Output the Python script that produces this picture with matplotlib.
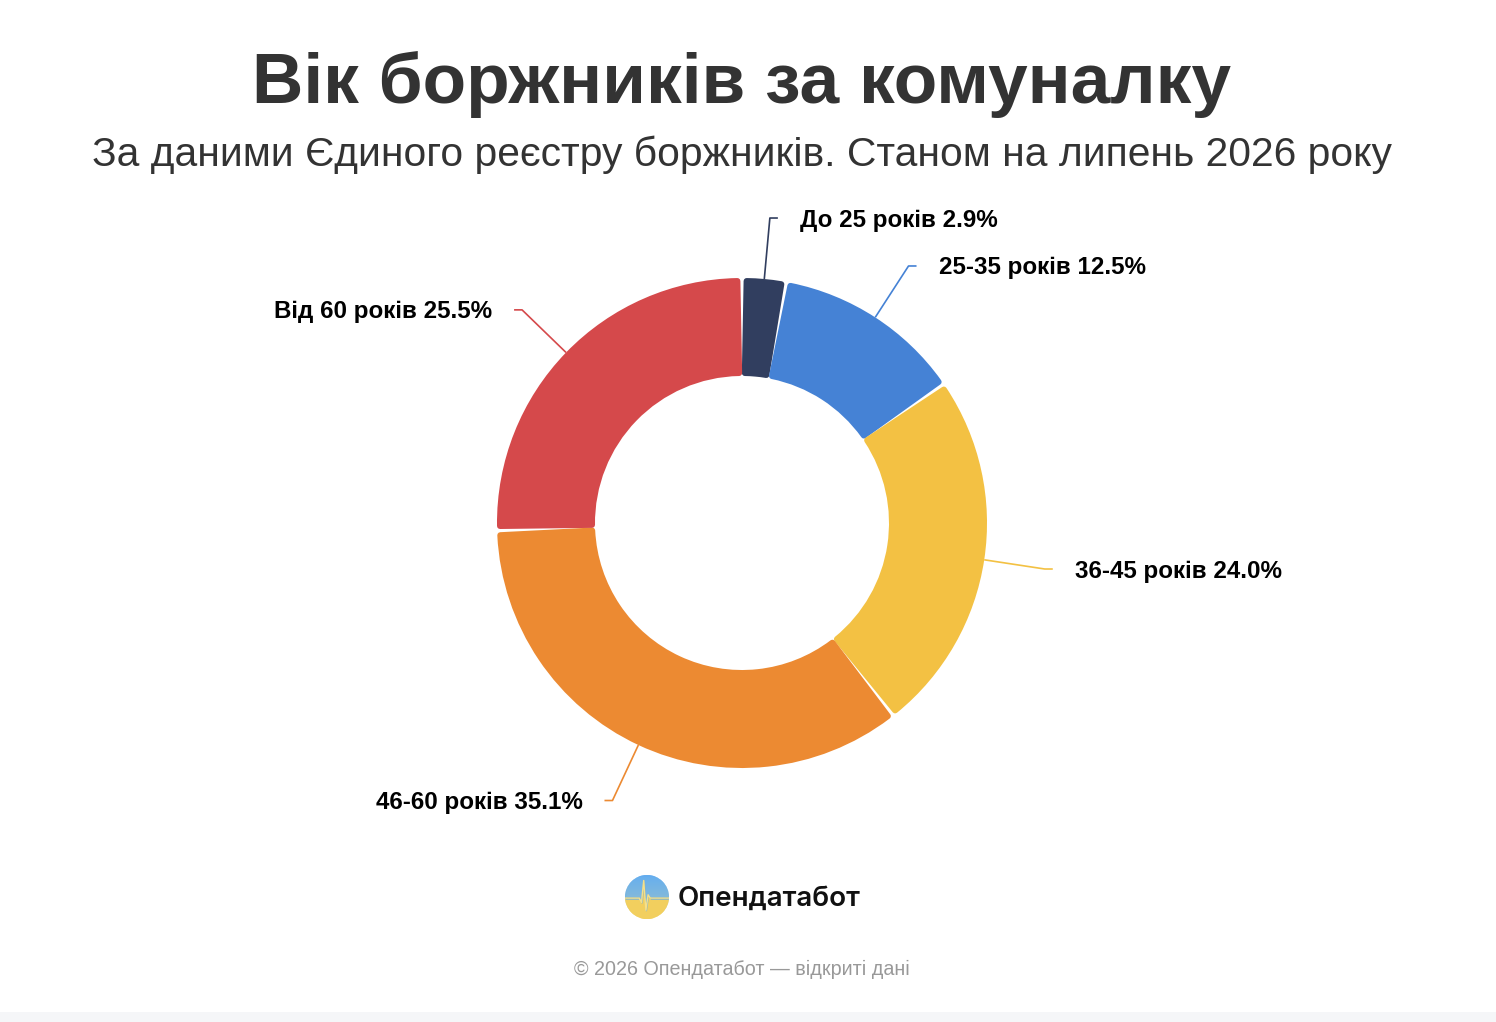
import numpy as np
import matplotlib.pyplot as plt
import matplotlib.patheffects as pe
from matplotlib.patches import Circle

# дані
labels = ['До 25 років', '25-35 років', '36-45 років', '46-60 років', 'Від 60 років']
values = [2.9, 12.5, 24.0, 35.1, 25.5]
colors = ['#313e5f', '#4582d5', '#f3c143', '#ec8a32', '#d5494b']

title = 'Вік боржників за комуналку'
subtitle = 'За даними Єдиного реєстру боржників. Станом на липень 2026 року'
brand = 'Опендатабот'
footer = '© 2026 Опендатабот — відкриті дані'

W, H = 1496, 1022
fig = plt.figure(figsize=(W / 100, H / 100), dpi=100)
fig.patch.set_facecolor('white')

# сіра смуга внизу
band = fig.add_axes([0, 0, 1, 10 / H])
band.set_facecolor('#f5f6f8')
band.set_xticks([]); band.set_yticks([])
for s in band.spines.values():
    s.set_visible(False)

fig.text(742 / W, 1 - 85 / H, title, ha='center', va='center', fontsize=51.3,
         fontweight='bold', color='#333333', family='Liberation Sans')
fig.text(742 / W, 1 - 155 / H, subtitle, ha='center', va='center', fontsize=29.3,
         color='#333333', family='Liberation Sans')

# кільцева діаграма
cx, cy, R = 742, 523, 245
lim = 1.7
size = 2 * lim * R
ax = fig.add_axes([(cx - size / 2) / W, (H - cy - size / 2) / H, size / W, size / H])

ring = 0.40
wedges, _ = ax.pie(values, colors=colors, startangle=90, counterclock=False,
                   radius=1, wedgeprops=dict(width=ring, linewidth=0))
ax.set_xlim(-lim, lim)
ax.set_ylim(-lim, lim)
ax.set_aspect('equal')
ax.axis('off')

# заокруглені кути: звужуємо сектор і обводимо тим самим кольором
e = 3 / R
for w in wedges:
    d = np.degrees(0.019)
    w.set_theta1(w.theta1 + d)
    w.set_theta2(w.theta2 - d)
    w.set_radius(1 - e)
    w.set_width(ring - 2 * e)
    w.set_path_effects([pe.Stroke(linewidth=2 * 3 * 0.72, foreground=w.get_facecolor(),
                                  joinstyle='round'), pe.Normal()])

# підписи з виносками
hseg = 8 / R
gap = 22 / R
for w, lab, v, c in zip(wedges, labels, values, colors):
    mid = np.radians((w.theta1 + w.theta2) / 2)
    x0, y0 = np.cos(mid), np.sin(mid)
    x1, y1 = 1.25 * x0, 1.25 * y0
    side = 1 if x0 >= 0 else -1
    x2 = x1 + side * hseg
    ax.plot([x0, x1, x2], [y0, y1, y1], color=c, lw=1.2, solid_capstyle='butt')
    ax.text(x2 + side * gap, y1 - 2 / R, f'{lab} {v:.1f}%',
            ha='left' if side > 0 else 'right',
            va='center', fontsize=17.4, fontweight='bold', color='black',
            family='Liberation Sans')

# логотип
lr = 22
lx, ly = 647, 897
lax = fig.add_axes([(lx - lr) / W, (H - ly - lr) / H, 2 * lr / W, 2 * lr / H])
lax.set_xlim(-1, 1); lax.set_ylim(-1, 1)
lax.axis('off')
grad = np.linspace(0, 1, 100)[:, None]
top = np.array([0.42, 0.70, 0.95])
bot = np.array([0.98, 0.90, 0.55])
img = np.ones((100, 100, 3)) * (top * (1 - grad[:, :, None]) + bot * grad[:, :, None])
im = lax.imshow(img, extent=[-1, 1, -1, 1], origin='upper')
im.set_clip_path(Circle((0, 0), 1, transform=lax.transData))
px = np.array([-1, -0.35, -0.25, -0.15, -0.05, 0.05, 0.15, 0.25, 1])
py = np.array([-0.05, -0.05, -0.25, 0.75, -0.6, 0.1, -0.05, -0.05, -0.05])
yel = lax.fill_between(px, py, -1, color='#f2cf5e')
yel.set_clip_path(Circle((0, 0), 1, transform=lax.transData))
bl = lax.fill_between(px, py, 1, color='#62acee', alpha=0.6)
bl.set_clip_path(Circle((0, 0), 1, transform=lax.transData))
lax.plot(px, py, color='#f6e08a', lw=1.0, clip_path=Circle((0, 0), 1, transform=lax.transData))

fig.text(678 / W, 1 - 899 / H, brand, ha='left', va='center', fontsize=20,
         fontweight='semibold', color='#111111', family='Inter')

fig.text(742 / W, 1 - 969 / H, footer, ha='center', va='center', fontsize=14.2,
         color='#999999', family='Liberation Sans')

fig.savefig('out.png', dpi=100, facecolor='white')
